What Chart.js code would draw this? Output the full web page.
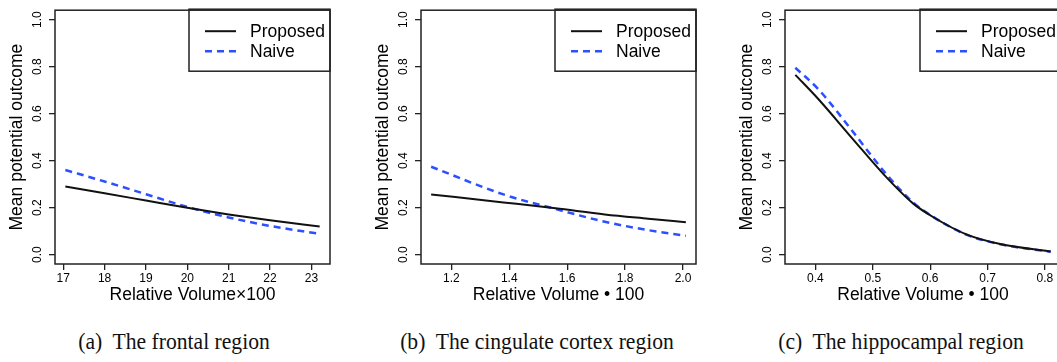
<!DOCTYPE html>
<html>
<head>
<meta charset="utf-8">
<script src="https://cdn.jsdelivr.net/npm/chart.js@4.4.1/dist/chart.umd.min.js"></script>
<style>
   html, body { margin: 0; padding: 0; background: #fff; width: 1057px; height: 362px; overflow: hidden; }
   .panel { position: absolute; top: 0; }
   .cap {
      position: absolute; top: 328px; transform: translateX(-50%) scaleX(0.9);
      font-family: "Liberation Serif", "Times New Roman", serif; font-size: 24px;
      color: #111; white-space: nowrap;
   }
</style>
</head>
<body>
<div class="panel" style="left:0px"><canvas id="chartA" width="345" height="310"></canvas></div>
<div class="panel" style="left:366px"><canvas id="chartB" width="345" height="310"></canvas></div>
<div class="panel" style="left:730px"><canvas id="chartC" width="346" height="310"></canvas></div>
<div class="cap" style="left:174px">(a)&nbsp; The frontal region</div>
<div class="cap" style="left:537px">(b)&nbsp; The cingulate cortex region</div>
<div class="cap" style="left:901px">(c)&nbsp; The hippocampal region</div>

<script>
/*=================================>> DATA  <<=================================*/

const seriesLabels = ["Proposed", "Naive"];
const yTicks = [0, 0.2, 0.4, 0.6, 0.8, 1.0];

// (a) frontal region
const frontalX = [17.05, 18, 19, 20, 21, 22, 23.2];
const frontalProposed = [0.290, 0.261, 0.230, 0.199, 0.171, 0.146, 0.120];
const frontalNaive = [0.360, 0.311, 0.257, 0.203, 0.158, 0.122, 0.088];
const frontalTicks = [17, 18, 19, 20, 21, 22, 23];

// (b) cingulate cortex region
const cingulateX = [1.13, 1.38, 1.56, 1.73, 1.88, 2.01];
const cingulateProposed = [0.256, 0.222, 0.197, 0.171, 0.153, 0.138];
const cingulateNaive = [0.374, 0.256, 0.194, 0.140, 0.104, 0.080];
const cingulateTicks = [1.2, 1.4, 1.6, 1.8, 2.0];

// (c) hippocampal region
const hippoX = [0.365, 0.405, 0.463, 0.521, 0.570, 0.605, 0.663, 0.722, 0.810];
const hippoProposed = [0.765, 0.662, 0.498, 0.336, 0.218, 0.160, 0.086, 0.045, 0.013];
const hippoNaive = [0.795, 0.704, 0.530, 0.350, 0.222, 0.161, 0.085, 0.044, 0.012];
const hippoTicks = [0.4, 0.5, 0.6, 0.7, 0.8];

/*=================================>> CHARTS  <<=================================*/

Chart.defaults.font.family = '"Liberation Sans", Arial, sans-serif';
Chart.defaults.color = '#000';

// box round the plot + R-style legend in the top right corner
const frameAndLegend = {
   id: 'frameAndLegend',
   afterDraw(chart) {
      const { ctx, chartArea: a } = chart;
      ctx.save();
      ctx.strokeStyle = '#222';
      ctx.lineWidth = 1.5;
      ctx.strokeRect(a.left, a.top, a.right - a.left, a.bottom - a.top);

      const w = 141, h = 62;
      const lx = a.right - w, ly = a.top - 1;
      ctx.strokeRect(lx, ly, w, h);
      chart.data.datasets.forEach((ds, i) => {
         const y = ly + 22 + i * 20;
         ctx.beginPath();
         ctx.setLineDash(ds.borderDash || []);
         ctx.strokeStyle = ds.borderColor;
         ctx.lineWidth = ds.borderWidth;
         ctx.moveTo(lx + 16, y);
         ctx.lineTo(lx + 47, y);
         ctx.stroke();
         ctx.setLineDash([]);
         ctx.fillStyle = '#000';
         ctx.font = '17.5px "Liberation Sans", Arial, sans-serif';
         ctx.textBaseline = 'middle';
         ctx.fillText(ds.label, lx + 61, y + 1);
      });
      ctx.restore();
   }
};

function toPoints(xs, ys) {
   return xs.map((x, i) => ({ x: x, y: ys[i] }));
}

function drawPanel(id, xs, proposed, naive, xTicks, xMin, xMax, xTitle, decimals) {
   const ctx = document.getElementById(id);
   const config = {
      type: 'line',
      data: {
         datasets: [
         {
            label: seriesLabels[0],
            data: toPoints(xs, proposed),
            borderColor: '#111111',
            borderWidth: 2,
            pointRadius: 0,
         },
         {
            label: seriesLabels[1],
            data: toPoints(xs, naive),
            borderColor: 'rgb(45, 80, 255)',
            borderWidth: 2.5,
            borderDash: [7, 5],
            pointRadius: 0,
         },
      ]},
      options: {
         responsive: false,
         animation: false,
         layout: { padding: { top: 1, right: 15, left: 0, bottom: 0 } },
         elements: {
            line: { cubicInterpolationMode: 'monotone' }
         },
         plugins: {
            legend: { display: false },
            tooltip: { enabled: false },
         },
         scales: {
            x: {
               type: 'linear',
               min: xMin,
               max: xMax,
               afterBuildTicks: s => { s.ticks = xTicks.map(v => ({ value: v })); },
               afterFit: s => { s.height = 46; },
               grid: { drawOnChartArea: false, tickLength: 6, color: '#222', lineWidth: 1.3 },
               border: { display: false },
               ticks: {
                  maxRotation: 0,
                  padding: 1,
                  font: { size: 12 },
                  callback: v => v.toFixed(decimals),
               },
               title: {
                  display: true,
                  text: xTitle,
                  font: { size: 17.5 },
                  padding: { top: 0, bottom: 4 },
               }
            },
            y: {
               min: -0.04,
               max: 1.04,
               afterBuildTicks: s => { s.ticks = yTicks.map(v => ({ value: v })); },
               afterFit: s => { s.width = 55; },
               grid: { drawOnChartArea: false, tickLength: 6, color: '#222', lineWidth: 1.3 },
               border: { display: false },
               ticks: {
                  minRotation: 90,
                  maxRotation: 90,
                  crossAlign: 'center',
                  padding: 3,
                  font: { size: 12 },
                  callback: v => v.toFixed(1),
               },
               title: {
                  display: true,
                  text: 'Mean potential outcome',
                  font: { size: 17.5 },
                  padding: { top: 7, bottom: 0 },
               }
            }
         }
      },
      plugins: [frameAndLegend],
   };
   return new Chart(ctx, config);
}

drawPanel('chartA', frontalX, frontalProposed, frontalNaive, frontalTicks, 16.80, 23.45, 'Relative Volume\u00d7100', 0);
drawPanel('chartB', cingulateX, cingulateProposed, cingulateNaive, cingulateTicks, 1.095, 2.045, 'Relative Volume \u2022 100', 1);
drawPanel('chartC', hippoX, hippoProposed, hippoNaive, hippoTicks, 0.347, 0.828, 'Relative Volume \u2022 100', 1);
</script>
</body>
</html>
